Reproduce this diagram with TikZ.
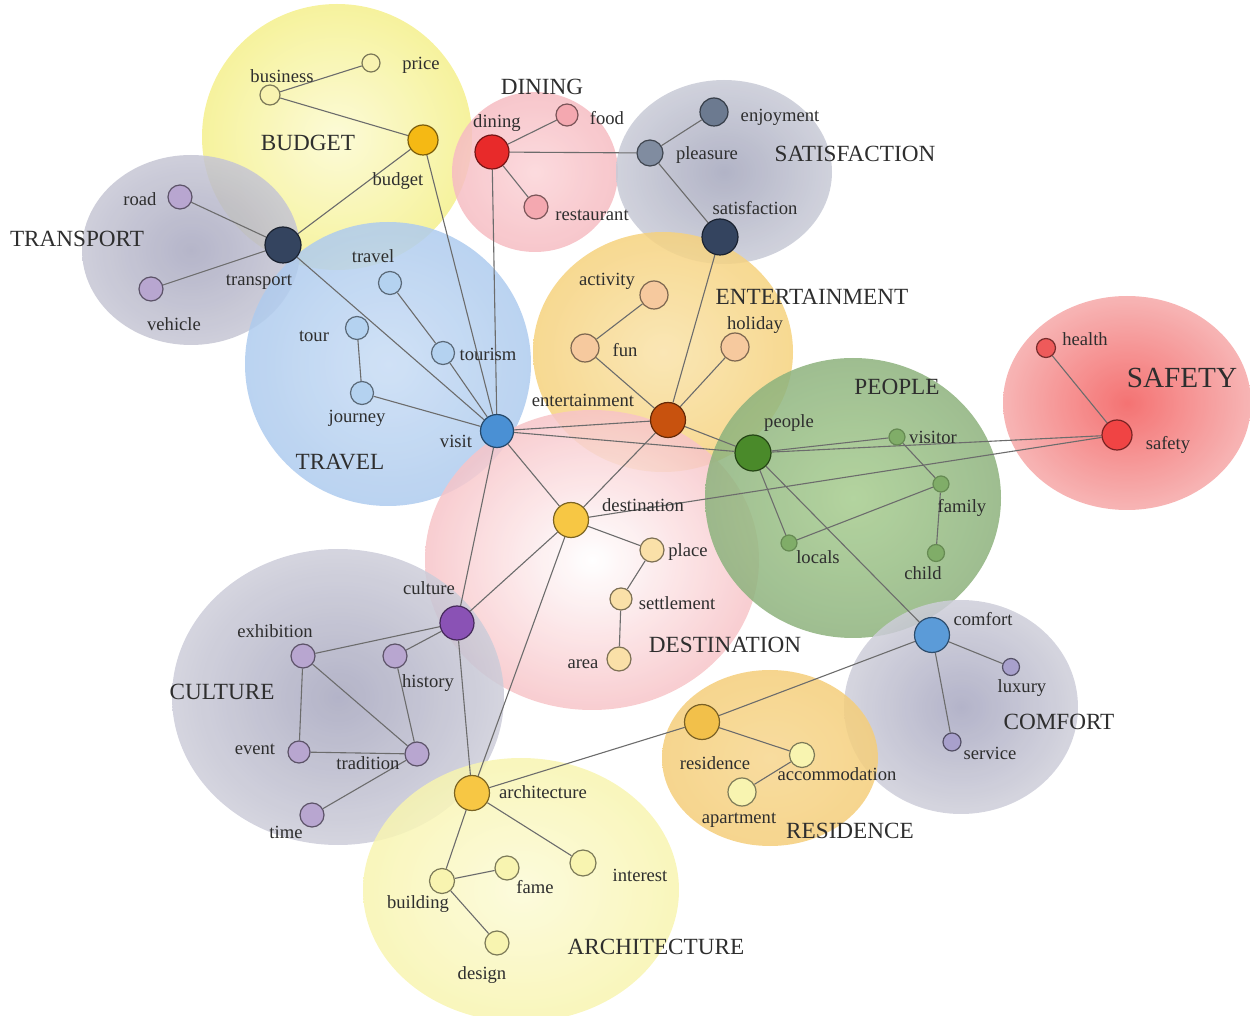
\documentclass[tikz,border=0pt]{standalone}
\usepackage{fontspec}
\setmainfont{Liberation Serif}
\usepackage{tikz}
\usetikzlibrary{calc}
\pgfdeclarelayer{blobs}
\pgfdeclarelayer{links}
\pgfsetlayers{blobs,links,main}

\definecolor{txt}{HTML}{2E2E2E}
\definecolor{linkgray}{HTML}{6C6C6C}
\definecolor{cbudget}{HTML}{F5B914}
\definecolor{cpale}{HTML}{F8F2B0}
\definecolor{cnavy}{HTML}{34445F}
\definecolor{clilac}{HTML}{B8A6D0}
\definecolor{cred}{HTML}{E82A2A}
\definecolor{cpink}{HTML}{F4A8B0}
\definecolor{cslate}{HTML}{808CA0}
\definecolor{cslatedk}{HTML}{6C7A90}
\definecolor{cskyl}{HTML}{B4D2F0}
\definecolor{cblue}{HTML}{4A90D4}
\definecolor{cpeach}{HTML}{F6C99E}
\definecolor{crust}{HTML}{C8520E}
\definecolor{cgreen}{HTML}{4A8A2A}
\definecolor{cgreenl}{HTML}{80AD68}
\definecolor{csafe}{HTML}{F04444}
\definecolor{chealth}{HTML}{EE5A5A}
\definecolor{cgold}{HTML}{F7C744}
\definecolor{csand}{HTML}{FAE0A8}
\definecolor{cviolet}{HTML}{8A52B5}
\definecolor{ccream}{HTML}{F8F4B0}
\definecolor{ccomfort}{HTML}{5B9BD8}
\definecolor{cmauve}{HTML}{A8A0CC}
\definecolor{cresid}{HTML}{F2C04A}

\begin{document}
\begin{tikzpicture}[x=0.5pt,y=-0.5pt,
    kw/.style={circle, inner sep=0pt, line width=0.6pt, fill=#1, draw=#1!50!black},
    lbl/.style={font=\fontsize{9.3}{10}\selectfont, text=txt, inner sep=0pt},
    cat/.style={font=\fontsize{11.6}{13}\selectfont, text=txt, inner sep=0pt},
    link/.style={draw=linkgray, line width=0.55pt},
    blob/.style={fill opacity=0.85}]
\useasboundingbox (0,0) rectangle (1250,1016);

\begin{pgfonlayer}{blobs}
\shade[blob, inner color={rgb,255:red,251;green,250;blue,208}, outer color={rgb,255:red,245;green,240;blue,140}] (337,137) ellipse [x radius=135, y radius=133];
\shade[blob, inner color={rgb,255:red,168;green,168;blue,192}, outer color={rgb,255:red,198;green,198;blue,212}] (191,250) ellipse [x radius=109, y radius=95];
\shade[blob, inner color={rgb,255:red,251;green,212;blue,216}, outer color={rgb,255:red,246;green,188;blue,194}] (535,172) ellipse [x radius=83, y radius=80];
\shade[blob, inner color={rgb,255:red,164;green,166;blue,188}, outer color={rgb,255:red,200;green,202;blue,214}] (724,172) ellipse [x radius=108, y radius=92];
\shade[blob, inner color={rgb,255:red,200;green,220;blue,244}, outer color={rgb,255:red,174;green,203;blue,238}] (388,364) ellipse [x radius=143, y radius=142];
\shade[blob, inner color={rgb,255:red,249;green,226;blue,168}, outer color={rgb,255:red,246;green,210;blue,126}] (663,352) ellipse [x radius=130, y radius=120];
\shade[blob, inner color={rgb,255:red,255;green,255;blue,255}, outer color={rgb,255:red,247;green,196;blue,200}] (592,560) ellipse [x radius=167, y radius=150];
\shade[blob, inner color={rgb,255:red,166;green,204;blue,142}, outer color={rgb,255:red,141;green,178;blue,125}] (853,498) ellipse [x radius=148, y radius=140];
\shade[blob, inner color={rgb,255:red,242;green,90;blue,90}, outer color={rgb,255:red,246;green,168;blue,168}] (1127,403) ellipse [x radius=124, y radius=107];
\shade[blob, inner color={rgb,255:red,166;green,166;blue,190}, outer color={rgb,255:red,205;green,205;blue,217}] (338,697) ellipse [x radius=166, y radius=148];
\shade[blob, inner color={rgb,255:red,166;green,166;blue,192}, outer color={rgb,255:red,206;green,206;blue,217}] (961,707) ellipse [x radius=117, y radius=107];
\shade[blob, inner color={rgb,255:red,247;green,214;blue,142}, outer color={rgb,255:red,245;green,206;blue,122}] (770,758) ellipse [x radius=108, y radius=88];
\shade[blob, inner color={rgb,255:red,251;green,250;blue,214}, outer color={rgb,255:red,248;green,245;blue,176}] (521,890) ellipse [x radius=158, y radius=132];
\end{pgfonlayer}

% keyword nodes
\node[kw=cpale, minimum size=9pt] (price) at (371,63) {};
\node[kw=cpale, minimum size=10pt] (business) at (270,95) {};
\node[kw=cbudget, minimum size=15pt] (budget) at (423,140) {};
\node[kw=cnavy, minimum size=18pt] (transport) at (283,245) {};
\node[kw=clilac, minimum size=12pt] (road) at (180,197) {};
\node[kw=clilac, minimum size=12pt] (vehicle) at (151,289) {};
\node[kw=cred, minimum size=17pt] (dining) at (492,152) {};
\node[kw=cpink, minimum size=11pt] (food) at (567,115) {};
\node[kw=cpink, minimum size=12pt] (restaurant) at (536,207) {};
\node[kw=cslate, minimum size=13pt] (pleasure) at (650,153) {};
\node[kw=cslatedk, minimum size=14pt] (enjoyment) at (714,112) {};
\node[kw=cnavy, minimum size=18pt] (satisfaction) at (720,237) {};
\node[kw=cskyl, minimum size=11.5pt] (travel) at (390,283) {};
\node[kw=cskyl, minimum size=11.5pt] (tour) at (357,328) {};
\node[kw=cskyl, minimum size=11.5pt] (tourism) at (443,353) {};
\node[kw=cskyl, minimum size=11.5pt] (journey) at (362,393) {};
\node[kw=cblue, minimum size=16.5pt] (visit) at (497,431) {};
\node[kw=cpeach, minimum size=14pt] (activity) at (654,295) {};
\node[kw=cpeach, minimum size=14pt] (fun) at (585,348) {};
\node[kw=cpeach, minimum size=14pt] (holiday) at (735,347) {};
\node[kw=crust, minimum size=17.5pt] (entertainment) at (668,420) {};
\node[kw=cgreen, minimum size=18pt] (people) at (753,453) {};
\node[kw=cgreenl, minimum size=8pt, draw=cgreenl!80!black] (visitor) at (897,437) {};
\node[kw=cgreenl, minimum size=8pt, draw=cgreenl!80!black] (family) at (941,484) {};
\node[kw=cgreenl, minimum size=8pt, draw=cgreenl!80!black] (locals) at (789,543) {};
\node[kw=cgreenl, minimum size=8.5pt, draw=cgreenl!80!black] (child) at (936,553) {};
\node[kw=chealth, minimum size=9.5pt] (health) at (1046,348) {};
\node[kw=csafe, minimum size=15pt] (safety) at (1117,435) {};
\node[kw=cgold, minimum size=17.5pt] (destination) at (571,520) {};
\node[kw=csand, minimum size=12pt] (place) at (652,550) {};
\node[kw=csand, minimum size=11pt] (settlement) at (621,599) {};
\node[kw=csand, minimum size=12pt] (area) at (619,659) {};
\node[kw=cviolet, minimum size=17pt] (culture) at (457,623) {};
\node[kw=clilac, minimum size=12pt] (exhibition) at (303,656) {};
\node[kw=clilac, minimum size=12pt] (history) at (395,656) {};
\node[kw=clilac, minimum size=11pt] (event) at (299,752) {};
\node[kw=clilac, minimum size=12pt] (tradition) at (417,754) {};
\node[kw=clilac, minimum size=12pt] (time) at (312,815) {};
\node[kw=cgold, minimum size=17.5pt] (architecture) at (472,793) {};
\node[kw=ccream, minimum size=12.5pt] (building) at (442,881) {};
\node[kw=ccream, minimum size=12pt] (fame) at (507,868) {};
\node[kw=ccream, minimum size=13pt] (interest) at (583,863) {};
\node[kw=ccream, minimum size=12pt] (design) at (497,943) {};
\node[kw=ccomfort, minimum size=17.5pt] (comfort) at (932,635) {};
\node[kw=cmauve, minimum size=8.5pt] (luxury) at (1011,667) {};
\node[kw=cmauve, minimum size=9pt] (service) at (952,742) {};
\node[kw=cresid, minimum size=17.5pt] (residence) at (702,722) {};
\node[kw=ccream, minimum size=12.5pt] (accommodation) at (802,755) {};
\node[kw=ccream, minimum size=14pt] (apartment) at (742,792) {};

% keyword labels
\node[lbl] (lprice) at (421,65) {price};
\node[lbl] (lbusiness) at (282,76) {business};
\node[lbl] (lbudget) at (398,181) {budget};
\node[lbl] (ltransport) at (259,282) {transport};
\node[lbl] (lroad) at (140,199) {road};
\node[lbl] (lvehicle) at (174,324) {vehicle};
\node[lbl] (ldining) at (497,123) {dining};
\node[lbl] (lfood) at (607,118) {food};
\node[lbl] (lrestaurant) at (592,215) {restaurant};
\node[lbl] (lpleasure) at (707,155) {pleasure};
\node[lbl] (lenjoyment) at (780,117) {enjoyment};
\node[lbl] (lsatisfaction) at (755,208) {satisfaction};
\node[lbl] (ltravel) at (373,256) {travel};
\node[lbl] (ltour) at (314,336) {tour};
\node[lbl] (ltourism) at (488,354) {tourism};
\node[lbl] (ljourney) at (357,418) {journey};
\node[lbl] (lvisit) at (456,441) {visit};
\node[lbl] (lactivity) at (607,281) {activity};
\node[lbl] (lfun) at (625,350) {fun};
\node[lbl] (lholiday) at (755,325) {holiday};
\node[lbl] (lentertainment) at (583,400) {entertainment};
\node[lbl] (lpeople) at (789,423) {people};
\node[lbl] (lvisitor) at (933,437) {visitor};
\node[lbl] (lfamily) at (962,508) {family};
\node[lbl] (llocals) at (818,557) {locals};
\node[lbl] (lchild) at (923,573) {child};
\node[lbl] (lhealth) at (1085,339) {health};
\node[lbl] (lsafety) at (1168,445) {safety};
\node[lbl] (ldestination) at (643,505) {destination};
\node[lbl] (lplace) at (688,552) {place};
\node[lbl] (lsettlement) at (677,603) {settlement};
\node[lbl] (larea) at (583,664) {area};
\node[lbl] (lculture) at (429,588) {culture};
\node[lbl] (lexhibition) at (275,631) {exhibition};
\node[lbl] (lhistory) at (428,683) {history};
\node[lbl] (levent) at (255,749) {event};
\node[lbl] (ltradition) at (368,763) {tradition};
\node[lbl] (ltime) at (286,832) {time};
\node[lbl] (larchitecture) at (543,792) {architecture};
\node[lbl] (lbuilding) at (418,904) {building};
\node[lbl] (lfame) at (535,887) {fame};
\node[lbl] (linterest) at (640,875) {interest};
\node[lbl] (ldesign) at (482,975) {design};
\node[lbl] (lcomfort) at (983,619) {comfort};
\node[lbl] (lluxury) at (1022,688) {luxury};
\node[lbl] (lservice) at (990,753) {service};
\node[lbl] (lresidence) at (715,763) {residence};
\node[lbl] (laccommodation) at (837,774) {accommodation};
\node[lbl] (lapartment) at (739,820) {apartment};

% cluster names
\node[cat] (cBUDGET) at (308,143) {BUDGET};
\node[cat] (cTRANSPORT) at (77,239) {TRANSPORT};
\node[cat] (cDINING) at (542,87) {DINING};
\node[cat] (cSATISFACTION) at (855,154) {SATISFACTION};
\node[cat] (cTRAVEL) at (340,462) {TRAVEL};
\node[cat] (cENTERTAINMENT) at (812,297) {ENTERTAINMENT};
\node[cat] (cPEOPLE) at (897,387) {PEOPLE};
\node[cat, font=\fontsize{14.6}{16}\selectfont] (cSAFETY) at (1182,378) {SAFETY};
\node[cat] (cDESTINATION) at (725,645) {DESTINATION};
\node[cat] (cCULTURE) at (222,692) {CULTURE};
\node[cat] (cCOMFORT) at (1059,722) {COMFORT};
\node[cat] (cRESIDENCE) at (850,831) {RESIDENCE};
\node[cat] (cARCHITECTURE) at (656,947) {ARCHITECTURE};

\begin{pgfonlayer}{links}
\draw[link] (budget) -- (business);
\draw[link] (business) -- (price);
\draw[link] (budget) -- (transport);
\draw[link] (budget) -- (visit);
\draw[link] (transport) -- (road);
\draw[link] (transport) -- (vehicle);
\draw[link] (transport) -- (visit);
\draw[link] (dining) -- (food);
\draw[link] (dining) -- (restaurant);
\draw[link] (dining) -- (pleasure);
\draw[link] (dining) -- (visit);
\draw[link] (pleasure) -- (enjoyment);
\draw[link] (pleasure) -- (satisfaction);
\draw[link] (satisfaction) -- (entertainment);
\draw[link] (travel) -- (tourism);
\draw[link] (tourism) -- (visit);
\draw[link] (tour) -- (journey);
\draw[link] (journey) -- (visit);
\draw[link] (visit) -- (entertainment);
\draw[link] (visit) -- (people);
\draw[link] (visit) -- (destination);
\draw[link] (visit) -- (culture);
\draw[link] (activity) -- (fun);
\draw[link] (fun) -- (entertainment);
\draw[link] (holiday) -- (entertainment);
\draw[link] (entertainment) -- (destination);
\draw[link] (entertainment) -- (people);
\draw[link] (people) -- (visitor);
\draw[link] (people) -- (locals);
\draw[link] (people) -- (comfort);
\draw[link] (people) -- (safety);
\draw[link] (visitor) -- (family);
\draw[link] (family) -- (child);
\draw[link] (locals) -- (family);
\draw[link] (health) -- (safety);
\draw[link] (destination) -- (safety);
\draw[link] (destination) -- (place);
\draw[link] (place) -- (settlement);
\draw[link] (settlement) -- (area);
\draw[link] (destination) -- (culture);
\draw[link] (destination) -- (architecture);
\draw[link] (culture) -- (exhibition);
\draw[link] (culture) -- (history);
\draw[link] (culture) -- (architecture);
\draw[link] (exhibition) -- (event);
\draw[link] (exhibition) -- (tradition);
\draw[link] (event) -- (tradition);
\draw[link] (history) -- (tradition);
\draw[link] (tradition) -- (time);
\draw[link] (architecture) -- (building);
\draw[link] (building) -- (fame);
\draw[link] (building) -- (design);
\draw[link] (architecture) -- (interest);
\draw[link] (architecture) -- (residence);
\draw[link] (residence) -- (comfort);
\draw[link] (residence) -- (accommodation);
\draw[link] (accommodation) -- (apartment);
\draw[link] (comfort) -- (luxury);
\draw[link] (comfort) -- (service);
\end{pgfonlayer}
\end{tikzpicture}
\end{document}
